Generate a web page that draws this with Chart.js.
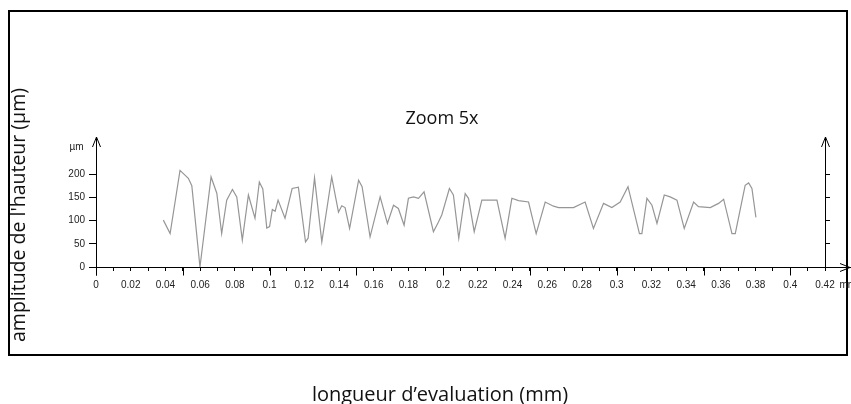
<!DOCTYPE html>
<html lang="fr">
<head>
  <meta charset="UTF-8">
  <title>Zoom 5x</title>
  <script src="https://cdn.jsdelivr.net/npm/chart.js"></script>
  <style>
    body {
      margin: 0;
      width: 851px;
      height: 404px;
      background: #fff;
      position: relative;
      overflow: hidden;
      font-family: 'Open Sans', sans-serif;
      color: #111;
    }
    .cadre {
      position: absolute;
      left: 8px;
      top: 10px;
      width: 840px;
      height: 346px;
      border: 2px solid #000;
      box-sizing: border-box;
    }
    #profil {
      position: absolute;
      left: 0;
      top: 0;
    }
    .titre {
      position: absolute;
      left: 342px;
      top: 105px;
      width: 200px;
      line-height: 24px;
      font-size: 18px;
      text-align: center;
    }
    .label-x {
      position: absolute;
      left: 190px;
      top: 381px;
      width: 500px;
      line-height: 26px;
      font-size: 20px;
      text-align: center;
    }
    .label-y {
      position: absolute;
      left: -132px;
      top: 202px;
      width: 300px;
      line-height: 26px;
      font-size: 19.5px;
      text-align: center;
      transform: rotate(-90deg);
    }
  </style>
</head>
<body>
  <div class="cadre"></div>
  <canvas id="profil" width="851" height="404"></canvas>
  <div class="titre">Zoom 5x</div>
  <div class="label-y">amplitude de l'hauteur (µm)</div>
  <div class="label-x">longueur d’evaluation (mm)</div>

  <script>
    // profil : position (mm) / hauteur (µm)
    const positions = [
      0.0388, 0.0427, 0.0484, 0.0532, 0.0552, 0.0599, 0.0663, 0.0696, 0.0724, 0.0753,
      0.0786, 0.0811, 0.0843, 0.0878, 0.0916, 0.0941, 0.0961, 0.0984, 0.1000, 0.1016,
      0.1032, 0.1049, 0.1089, 0.1130, 0.1166, 0.1207, 0.1222, 0.1259, 0.1301, 0.1358,
      0.1397, 0.1416, 0.1435, 0.1461, 0.1513, 0.1533, 0.1579, 0.1637, 0.1679, 0.1714,
      0.1742, 0.1775, 0.1800, 0.1829, 0.1858, 0.1890, 0.1944, 0.1973, 0.1992, 0.2036,
      0.2059, 0.2090, 0.2127, 0.2146, 0.2179, 0.2223, 0.2252, 0.2310, 0.2357, 0.2396,
      0.2434, 0.2492, 0.2536, 0.2588, 0.2636, 0.2665, 0.2751, 0.2818, 0.2866, 0.2924,
      0.2972, 0.3020, 0.3065, 0.3131, 0.3145, 0.3174, 0.3203, 0.3232, 0.3274, 0.3308,
      0.3347, 0.3389, 0.3443, 0.3471, 0.3539, 0.3587, 0.3616, 0.3664, 0.3683, 0.3740,
      0.3760, 0.3779, 0.3802
    ];
    const hauteurs = [
      101, 72, 208, 191, 175, 0, 194, 159, 72, 144,
      167, 151, 58, 155, 105, 183, 168, 84, 87, 124,
      120, 144, 105, 169, 172, 54, 62, 192, 54, 194,
      118, 132, 128, 83, 187, 173, 65, 151, 94, 133,
      126, 90, 148, 151, 148, 162, 76, 97, 112, 169,
      155, 62, 158, 148, 76, 144, 144, 144, 62, 148,
      143, 140, 72, 140, 131, 128, 128, 140, 83, 137,
      128, 140, 173, 72, 72, 148, 133, 94, 155, 151,
      144, 83, 140, 130, 128, 137, 146, 72, 72, 176,
      181, 169, 107
    ];

    const yTicks = [0, 50, 100, 150, 200];
    const yTicksDroite = [50, 100, 150, 200];
    const xTicks = [
      0, 0.01, 0.02, 0.03, 0.04, 0.05, 0.06, 0.07, 0.08, 0.09,
      0.1, 0.11, 0.12, 0.13, 0.14, 0.15, 0.16, 0.17, 0.18, 0.19,
      0.2, 0.21, 0.22, 0.23, 0.24, 0.25, 0.26, 0.27, 0.28, 0.29,
      0.3, 0.31, 0.32, 0.33, 0.34, 0.35, 0.36, 0.37, 0.38, 0.39,
      0.4, 0.41, 0.42
    ];
    const xLabels = [
      '0', '0.02', '0.04', '0.06', '0.08', '0.1', '0.12', '0.14', '0.16', '0.18', '0.2',
      '0.22', '0.24', '0.26', '0.28', '0.3', '0.32', '0.34', '0.36', '0.38', '0.4', '0.42'
    ];
    const xMajeurs = [0, 0.05, 0.1, 0.15, 0.2, 0.25, 0.3, 0.35, 0.4];

    const police = { family: "'Liberation Sans', Arial, sans-serif", size: 10 };

    function ligne(ctx, x1, y1, x2, y2) {
      ctx.beginPath();
      ctx.moveTo(x1, y1);
      ctx.lineTo(x2, y2);
      ctx.stroke();
    }

    // fleches, grands traits et unites autour des axes
    const decor = {
      id: 'decor',
      afterDraw(chart) {
        const { ctx, scales: { x, y } } = chart;
        const x0 = Math.round(x.getPixelForValue(0)) + 0.5;
        const xFin = Math.round(x.getPixelForValue(0.42)) + 0.5;
        const y0 = Math.round(y.getPixelForValue(0)) + 0.5;
        const yHaut = y.getPixelForValue(y.max);
        ctx.save();
        ctx.strokeStyle = '#000';
        ctx.lineWidth = 1;
        ligne(ctx, x0 - 6, y0, x0, y0);
        ligne(ctx, xFin, y0, 851, y0);
        ligne(ctx, x0, y0, x0, y0 + 8);
        xMajeurs.forEach(v => {
          const px = Math.round(x.getPixelForValue(v)) + 0.5;
          ligne(ctx, px, y0, px, y0 + 8);
        });
        [x0, xFin].forEach(px => {
          ligne(ctx, px - 4, yHaut + 10, px, yHaut);
          ligne(ctx, px, yHaut, px + 4, yHaut + 10);
        });
        ligne(ctx, 840, y0 - 4, 850, y0);
        ligne(ctx, 850, y0, 840, y0 + 4);
        ctx.fillStyle = '#222';
        ctx.font = "10px 'Liberation Sans', Arial, sans-serif";
        ctx.textBaseline = 'middle';
        ctx.textAlign = 'center';
        ctx.fillText('µm', x0 - 20, yHaut + 10);
        ctx.textAlign = 'left';
        ctx.fillText('mm', xFin + 14, y0 + 18);
        ctx.restore();
      }
    };

    new Chart(document.getElementById('profil'), {
      type: 'line',
      data: {
        datasets: [{
          data: positions.map((p, i) => ({ x: p, y: hauteurs[i] })),
          borderColor: '#969696',
          borderWidth: 1.2,
          pointRadius: 0,
          tension: 0,
          fill: false
        }]
      },
      options: {
        responsive: false,
        animation: false,
        layout: { padding: { left: 0, top: 137, right: 26, bottom: 107 } },
        plugins: {
          legend: { display: false },
          tooltip: { enabled: false }
        },
        scales: {
          x: {
            type: 'linear',
            min: 0,
            max: 0.42,
            afterBuildTicks: s => { s.ticks = xTicks.map(v => ({ value: v })); },
            afterFit: s => { s.height = 30; },
            grid: { drawOnChartArea: false, tickLength: 4, tickColor: '#000' },
            border: { color: '#000', width: 1 },
            ticks: {
              autoSkip: false,
              maxRotation: 0,
              padding: 8,
              color: '#222',
              font: police,
              callback: v => {
                const t = String(+Number(v).toFixed(2));
                return xLabels.includes(t) ? t : '';
              }
            }
          },
          y: {
            min: 0,
            max: 280,
            afterBuildTicks: s => { s.ticks = yTicks.map(v => ({ value: v })); },
            afterFit: s => { s.width = 96; },
            grid: { drawOnChartArea: false, tickLength: 7, tickColor: '#000' },
            border: { color: '#000', width: 1 },
            ticks: { padding: 4, color: '#222', font: police }
          },
          y2: {
            position: 'right',
            min: 0,
            max: 280,
            afterBuildTicks: s => { s.ticks = yTicksDroite.map(v => ({ value: v })); },
            afterFit: s => { s.width = 0; },
            grid: { drawOnChartArea: false, tickLength: 5, tickColor: '#000' },
            border: { color: '#000', width: 1 },
            ticks: { display: false }
          }
        }
      },
      plugins: [decor]
    });
  </script>
</body>
</html>
